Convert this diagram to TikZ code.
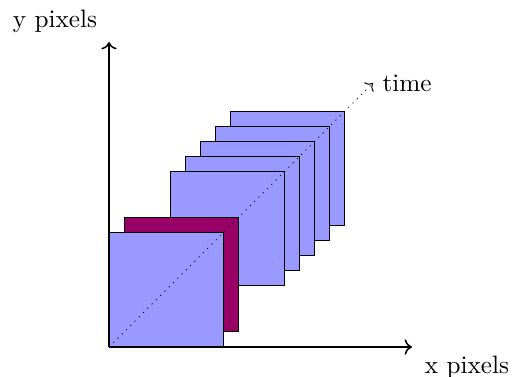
\documentclass[tikz,border=0pt]{standalone}
\usetikzlibrary{arrows.meta}
\definecolor{frameblue}{RGB}{153,153,255}
\definecolor{framepurple}{RGB}{153,0,102}
\begin{document}
\begin{tikzpicture}[x=0.397pt,y=-0.397pt,
  frame/.style={draw=black,fill=frameblue,minimum width=45.3pt,minimum height=45.3pt,inner sep=0pt,anchor=south west},
  hot/.style={frame,fill=framepurple},
  axis/.style={semithick,->},
  lbl/.style={inner sep=2pt}]
\useasboundingbox (0,0) rectangle (513,376);
\coordinate (O) at (109,347);
\coordinate (ytip) at (109,42);
\coordinate (xtip) at (412,347);
\coordinate (ttip) at (373,83);
% frames, back to front
\node[frame] (f8) at (230,226) {};
\node[frame] (f7) at (215,241) {};
\node[frame] (f6) at (200,256) {};
\node[frame] (f5) at (185,271) {};
\node[frame] (f4) at (170,286) {};
\node[hot] (f2) at (124,332) {};
\node[frame] (f1) at (O) {};
% axes
\draw[axis] (O) -- (ytip);
\draw[axis] (O) -- (xtip);
% time
\draw[dotted,->] (O) -- (ttip);
\node[lbl,anchor=west] (tl) at (377,83) {time};
\node[lbl] (yl) at (55,21) {y pixels};
\node[lbl] (xl) at (467,367) {x pixels};
\end{tikzpicture}
\end{document}
